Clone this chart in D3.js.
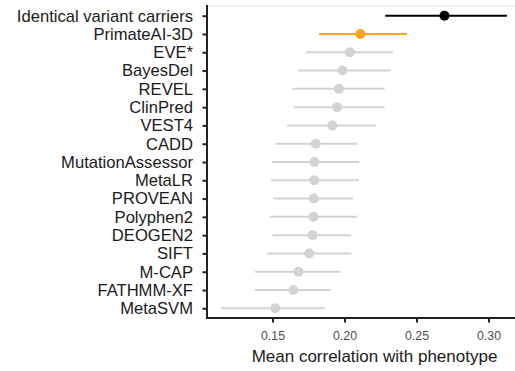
<!DOCTYPE html>
<html><head><meta charset="utf-8">
<script src="https://cdn.jsdelivr.net/npm/d3@7"></script>
<style>body{margin:0;background:#fff}svg{display:block}</style>
</head><body>
<svg id="c" width="515" height="371"></svg>
<script>
const methods = ["Identical variant carriers","PrimateAI-3D","EVE*","BayesDel","REVEL","ClinPred","VEST4","CADD","MutationAssessor","MetaLR","PROVEAN","Polyphen2","DEOGEN2","SIFT","M-CAP","FATHMM-XF","MetaSVM"];
const means = [0.2694,0.2111,0.2037,0.1986,0.1961,0.1949,0.1915,0.1801,0.1792,0.1790,0.1787,0.1785,0.1778,0.1755,0.1681,0.1644,0.1519];
const lower = [0.2283,0.1824,0.1734,0.1679,0.1637,0.1649,0.1602,0.1521,0.1498,0.1491,0.1507,0.1482,0.1500,0.1463,0.1378,0.1378,0.1144];
const upper = [0.3128,0.2433,0.2336,0.2317,0.2278,0.2278,0.2220,0.2090,0.2102,0.2100,0.2060,0.2086,0.2044,0.2047,0.1972,0.1903,0.1864];
const groups = ["ref","highlight","other","other","other","other","other","other","other","other","other","other","other","other","other","other","other"];
const xTicks = [0.15,0.20,0.25,0.30];

const colors = {ref:"#000000", highlight:"#F9A51C", other:"#D3D3D3"};
const svg = d3.select("#c");
const pL = 207, pR = 515, pT = 6, pB = 318;
const x = d3.scaleLinear().domain([0.15, 0.30]).range([272.5, 488.5]);
const y = d3.scalePoint().domain(methods).range([15.7, 308.3]);

svg.append("line").attr("x1", pL).attr("x2", pR).attr("y1", pT).attr("y2", pT)
  .attr("stroke", "#e0e0e0").attr("stroke-width", 1);

const rows = methods.map((m,i)=>({m, mean:means[i], lo:lower[i], hi:upper[i], g:groups[i]}));
const order = rows.slice().reverse();
svg.append("g").selectAll("line").data(order).join("line")
  .attr("x1", d=>x(d.lo)).attr("x2", d=>x(d.hi))
  .attr("y1", d=>y(d.m)).attr("y2", d=>y(d.m))
  .attr("stroke", d=>colors[d.g]).attr("stroke-width", 2);
svg.append("g").selectAll("circle").data(order).join("circle")
  .attr("cx", d=>x(d.mean)).attr("cy", d=>y(d.m)).attr("r", 5)
  .attr("fill", d=>colors[d.g]);

const font = "'Liberation Sans', Arial, Helvetica, sans-serif";
const yAxis = svg.append("g").attr("transform", `translate(${pL},0)`)
  .call(d3.axisLeft(y).tickSize(4.5).tickPadding(9.5));
yAxis.select(".domain").remove();
yAxis.selectAll(".tick line").attr("stroke", "#222").attr("stroke-width", 2);
yAxis.selectAll(".tick text").attr("font-family", font).attr("font-size", 16.6).attr("fill", "#1a1a1a");

const xAxis = svg.append("g").attr("transform", `translate(0,${pB})`)
  .call(d3.axisBottom(x).tickValues(xTicks).tickFormat(d3.format(".2f")).tickSize(4.5).tickPadding(8.5));
xAxis.select(".domain").remove();
xAxis.selectAll(".tick line").attr("stroke", "#222").attr("stroke-width", 2);
xAxis.selectAll(".tick text").attr("font-family", font).attr("font-size", 12.3).attr("fill", "#4d4d4d");

svg.append("line").attr("x1", pL).attr("x2", pL).attr("y1", pT-1).attr("y2", pB+1)
  .attr("stroke", "#222").attr("stroke-width", 2);
svg.append("line").attr("x1", pL-1).attr("x2", pR).attr("y1", pB).attr("y2", pB)
  .attr("stroke", "#222").attr("stroke-width", 2);

svg.append("text").attr("x", 374.5).attr("y", 362).attr("text-anchor", "middle")
  .attr("font-family", font).attr("font-size", 17).attr("fill", "#1a1a1a")
  .text("Mean correlation with phenotype");
</script>
</body></html>
